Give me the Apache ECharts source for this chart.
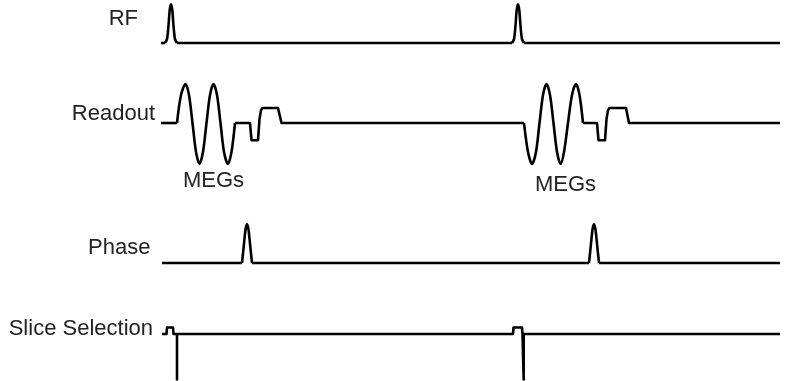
<!DOCTYPE html>
<html>
<head>
<meta charset="utf-8">
<script src="https://cdn.jsdelivr.net/npm/echarts@6/dist/echarts.min.js"></script>
<style>
html,body{margin:0;padding:0;background:#fff;}
#chart{width:801px;height:381px;}
</style>
</head>
<body>
<div id="chart"></div>
<script>
// Channel names (row labels)
var channelLabels = ['RF', 'Readout', 'Phase', 'Slice Selection'];
var echoLabel = 'MEGs';

// Time axis range (arbitrary time units)
var tMin = 0, tMax = 619;

// RF excitation: baseline segments and pulses [t, amplitude]
var rfBase = [[0,0],[4,0]];
var rfPulse1 = [[4,0],[6,0.1],[7.5,0.45],[8.7,0.85],[10,1],[11.3,0.85],[12.5,0.45],[14,0.1],[16,0]];
var rfMid = [[16,0],[351,0]];
var rfPulse2 = [[351,0],[353,0.1],[354.5,0.45],[355.7,0.85],[357,1],[358.3,0.85],[359.5,0.45],[361,0.1],[363,0]];
var rfTail = [[363,0],[619,0]];

// Readout: motion-encoding gradient lobes (smooth) and trapezoid segments
var readoutMEG1 = [[16,0],[20,0.72],[24.5,1],[28,0.72],[31.5,0],[35,-0.74],[38.5,-1.05],[42,-0.74],[45.5,0],
  [49,0.72],[52.5,1],[56,0.72],[59.5,0],[63,-0.74],[67,-1.05],[70.5,-0.74],[74,0]];
var readoutMEG2 = [[363,0],[367,-0.74],[371,-1.05],[375,-0.74],[378.5,0],[382,0.72],[385.5,1],[389,0.72],[392.5,0],
  [396,-0.74],[399.5,-1.05],[403,-0.74],[407,0],[411,0.72],[415,1],[418.5,0.72],[422,0]];
var readoutBase1 = [[0,0],[16,0]];
var readoutTrap1 = [[74,0],[89,0],[90.5,-0.44],[97,-0.44],[98.5,0.1],[100,0.33],[101.5,0.385],[117,0.385],[120.5,0],[363,0]];
var readoutTrap2 = [[422,0],[436,0],[437.5,-0.44],[444,-0.44],[445.5,0.1],[447,0.33],[448.5,0.385],[465,0.385],[468,0],[619,0]];

// Phase encoding blips
var phaseBase = [[1,0],[81,0]];
var phasePulse1 = [[81,0],[83,0.5],[84.6,0.88],[86,1],[87.4,0.88],[89,0.5],[91,0]];
var phaseMid = [[91,0],[428,0]];
var phasePulse2 = [[428,0],[430,0.5],[431.6,0.88],[433,1],[434.4,0.88],[436,0.5],[438,0]];
var phaseTail = [[438,0],[619,0]];

// Slice selection gradient
var sliceWave = [
  [1,0],[5.5,0],[6,1],[12,1],[12.5,0],[16,0],[16,-7],[16,0],
  [352,0],[352.5,1],[361,1],[361.5,0],[362.7,0],[362.7,-7],[362.7,0],
  [619,0]
];

var chart = echarts.init(document.getElementById('chart'), null, {renderer:'canvas'});
var FONT = '"Liberation Sans", Arial, sans-serif';
var lineStyle = {color:'#000', width:2.6, join:'round', cap:'butt'};

var grids = [
  {left:161, right:21, top:4.3, height:38.7},
  {left:161, right:21, top:84, height:80},
  {left:161, right:21, top:224.3, height:38.7},
  {left:161, right:21, top:327.5, height:52}
];
var yRanges = [[0,1],[-1.05,1],[0,1],[-7,1]];

var xAxes = grids.map(function(g,i){
  return {type:'value', gridIndex:i, min:tMin, max:tMax, show:false};
});
var yAxes = grids.map(function(g,i){
  return {type:'value', gridIndex:i, min:yRanges[i][0], max:yRanges[i][1], show:false};
});

function ser(data, idx, smooth){
  return {type:'line', data:data, xAxisIndex:idx, yAxisIndex:idx, smooth:smooth||false,
    showSymbol:false, symbol:'none', lineStyle:lineStyle, silent:true, animation:false, clip:false};
}

var txt = function(text, x, y, align){
  return {type:'text', x:x, y:y, style:{text:text, fill:'#222', font:'22px ' + FONT,
    textAlign:align, textVerticalAlign:'middle'}};
};

chart.setOption({
  backgroundColor:'#fff',
  animation:false,
  grid:grids,
  xAxis:xAxes,
  yAxis:yAxes,
  series:[
    ser(rfBase,0), ser(rfPulse1,0,0.3), ser(rfMid,0), ser(rfPulse2,0,0.3), ser(rfTail,0),
    ser(readoutBase1,1),
    ser(readoutMEG1,1,0.3),
    ser(readoutTrap1,1),
    ser(readoutMEG2,1,0.3),
    ser(readoutTrap2,1),
    ser(phaseBase,2), ser(phasePulse1,2,0.3), ser(phaseMid,2), ser(phasePulse2,2,0.3), ser(phaseTail,2),
    ser(sliceWave,3)
  ],
  graphic:[
    txt(channelLabels[0], 138, 19, 'right'),
    txt(channelLabels[1], 155, 113.5, 'right'),
    txt(echoLabel, 183, 181, 'left'),
    txt(echoLabel, 535, 185, 'left'),
    txt(channelLabels[2], 88, 247.5, 'left'),
    txt(channelLabels[3], 153, 328.5, 'right')
  ]
});
</script>
</body>
</html>
